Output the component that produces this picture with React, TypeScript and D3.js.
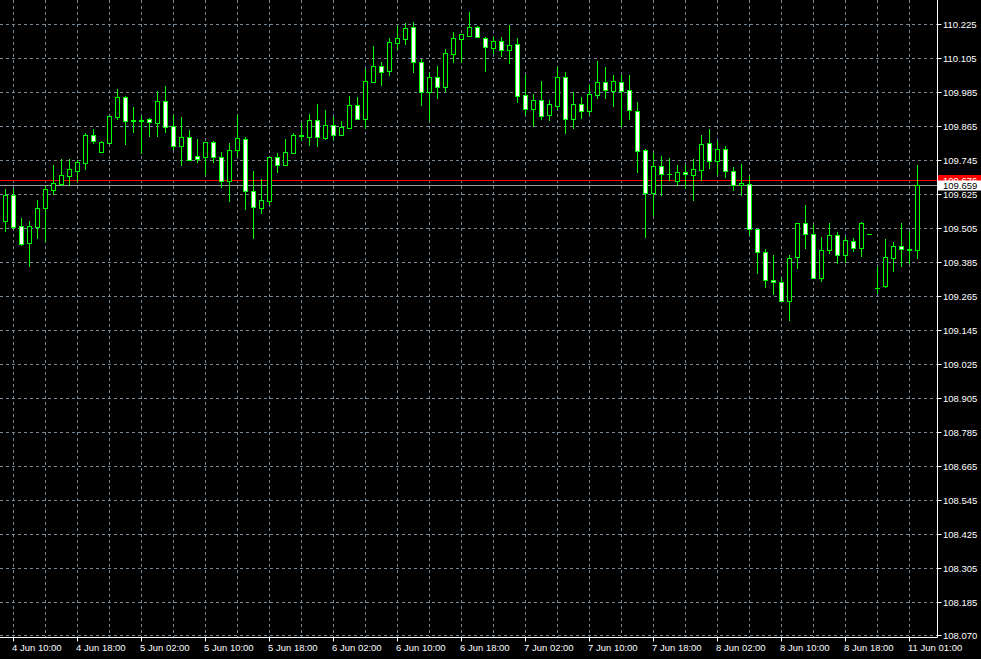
import React from "react";
import * as d3 from "d3";

const opens = [109.532,109.623,109.514,109.455,109.511,109.578,109.642,109.663,109.691,109.709,109.735,109.834,109.776,109.808,109.900,109.969,109.885,109.887,109.890,109.878,109.954,109.866,109.795,109.827,109.760,109.758,109.810,109.756,109.674,109.783,109.820,109.636,109.576,109.603,109.756,109.730,109.772,109.834,109.829,109.887,109.825,109.869,109.834,109.861,109.940,109.892,110.023,110.077,110.062,110.161,110.175,110.215,110.093,109.988,110.039,110.005,110.122,110.175,110.185,110.215,110.176,110.143,110.166,110.136,110.155,109.975,109.928,109.957,109.907,109.938,110.039,109.892,109.943,109.921,109.977,110.021,109.989,110.021,109.993,109.919,109.781,109.629,109.724,109.696,109.672,109.703,109.693,109.710,109.806,109.742,109.784,109.707,109.657,109.661,109.502,109.421,109.322,109.315,109.248,109.403,109.523,109.484,109.329,109.428,109.481,109.410,109.460,109.435,109.484,109.294,109.301,109.400,109.442,109.431,109.428];
const highs = [109.644,109.644,109.542,109.530,109.606,109.655,109.729,109.750,109.750,109.747,109.841,109.855,109.815,109.901,109.997,109.972,109.934,109.902,109.896,109.990,110.008,109.906,109.898,109.853,109.821,109.812,109.814,109.775,109.807,109.906,109.827,109.708,109.680,109.756,109.770,109.821,109.841,109.876,109.909,109.944,109.923,109.897,109.884,109.972,109.968,110.068,110.149,110.093,110.176,110.220,110.230,110.234,110.104,110.053,110.079,110.138,110.197,110.193,110.268,110.221,110.182,110.181,110.181,110.222,110.176,110.047,109.979,110.026,109.959,110.075,110.057,109.986,109.969,110.010,110.096,110.074,110.047,110.047,110.047,109.950,109.784,109.770,109.761,109.753,109.728,109.728,109.749,109.835,109.856,109.813,109.795,109.723,109.733,109.689,109.502,109.431,109.412,109.331,109.410,109.523,109.587,109.516,109.474,109.523,109.491,109.474,109.470,109.527,109.484,109.368,109.467,109.456,109.523,109.495,109.729];
const lows = [109.497,109.507,109.447,109.374,109.471,109.461,109.628,109.657,109.657,109.674,109.716,109.808,109.776,109.808,109.893,109.804,109.847,109.770,109.832,109.832,109.847,109.786,109.730,109.748,109.741,109.698,109.741,109.652,109.603,109.760,109.575,109.472,109.561,109.592,109.705,109.728,109.772,109.817,109.801,109.797,109.822,109.820,109.834,109.859,109.890,109.861,110.021,110.012,110.048,110.140,110.157,110.058,109.942,109.889,109.967,109.991,110.094,110.094,110.185,110.180,110.062,110.123,110.115,110.090,109.952,109.910,109.868,109.892,109.889,109.928,109.843,109.861,109.896,109.910,109.967,109.964,109.938,109.868,109.892,109.705,109.476,109.551,109.622,109.675,109.657,109.648,109.607,109.675,109.718,109.697,109.686,109.640,109.622,109.485,109.349,109.299,109.275,109.248,109.183,109.366,109.437,109.329,109.321,109.419,109.382,109.386,109.424,109.409,109.484,109.276,109.297,109.356,109.374,109.382,109.402];
const closes = [109.623,109.511,109.450,109.514,109.577,109.644,109.664,109.693,109.714,109.739,109.834,109.815,109.810,109.901,109.969,109.885,109.887,109.886,109.880,109.954,109.862,109.797,109.827,109.748,109.751,109.810,109.756,109.672,109.781,109.823,109.636,109.580,109.604,109.756,109.728,109.774,109.834,109.831,109.887,109.827,109.869,109.834,109.863,109.940,109.890,110.025,110.077,110.058,110.162,110.176,110.213,110.094,109.988,110.039,110.005,110.123,110.176,110.190,110.215,110.180,110.147,110.166,110.136,110.152,109.974,109.928,109.957,109.903,109.943,110.039,109.892,109.943,109.921,109.979,110.021,109.993,110.025,109.991,109.922,109.777,109.629,109.724,109.696,109.697,109.703,109.696,109.714,109.802,109.744,109.784,109.707,109.657,109.664,109.502,109.421,109.322,109.315,109.248,109.400,109.523,109.484,109.329,109.428,109.481,109.410,109.463,109.435,109.523,109.484,109.294,109.403,109.442,109.431,109.429,109.659];

const priceTicks = [110.225,110.105,109.985,109.865,109.745,109.625,109.505,109.385,109.265,109.145,109.025,108.905,108.785,108.665,108.545,108.425,108.305,108.185,108.070];
const timeLabels = ["4 Jun 10:00","4 Jun 18:00","5 Jun 02:00","5 Jun 10:00","5 Jun 18:00","6 Jun 02:00","6 Jun 10:00","6 Jun 18:00","7 Jun 02:00","7 Jun 10:00","7 Jun 18:00","8 Jun 02:00","8 Jun 10:00","8 Jun 18:00","11 Jun 01:00"];
const askPrice = 109.676;
const bidPrice = 109.659;

const W = 981;
const H = 659;
const AXIS_X = 937.5;
const AXIS_Y = 637.5;
const GREEN = "#00ff00";
const GRID = "#778899";
const FONT = "'Liberation Sans', Arial, sans-serif";

export default function App() {
  const x = d3.scaleLinear().domain([0, 1]).range([5.5, 13.5]);
  const y = d3.scaleLinear().domain([110.225, 108.07]).range([24.5, 635]);
  const gy = (p: number) => Math.floor(y(p)) + 0.5;
  const py = (p: number) => Math.round(y(p));

  const vGrid: number[] = [];
  for (let i = 1; x(i) < AXIS_X - 2; i += 4) vGrid.push(x(i));

  return (
    <svg width={W} height={H} style={{ position: "absolute", left: 0, top: 0, display: "block" }}>
      <rect x={0} y={0} width={W} height={H} fill="#000" />
      {priceTicks.map((p) => (
        <line key={"h" + p} x1={0} x2={AXIS_X} y1={gy(p)} y2={gy(p)} stroke={GRID} strokeWidth={1} strokeDasharray="3,3" />
      ))}
      {vGrid.map((vx) => (
        <line key={"v" + vx} x1={vx} x2={vx} y1={0} y2={AXIS_Y} stroke={GRID} strokeWidth={1} strokeDasharray="3,3" />
      ))}
      <line x1={0} x2={AXIS_X} y1={Math.round(y(askPrice)) + 0.5} y2={Math.round(y(askPrice)) + 0.5} stroke="#ff0000" strokeWidth={1} />
      <line x1={0} x2={AXIS_X} y1={Math.round(y(bidPrice)) + 0.5} y2={Math.round(y(bidPrice)) + 0.5} stroke="#9a9a9a" strokeWidth={1} />
      {opens.map((o, i) => {
        const c = closes[i];
        const cx = x(i);
        const yH = py(highs[i]);
        const yL = py(lows[i]);
        const yT = py(Math.max(o, c));
        const yB = py(Math.min(o, c));
        const bull = c >= o;
        return (
          <g key={"c" + i}>
            <rect x={cx - 0.5} y={yH} width={1} height={Math.max(1, yL - yH + 1)} fill={GREEN} />
            {yB - yT < 1 ? (
              <rect x={cx - 2.5} y={yT} width={5} height={1} fill={GREEN} />
            ) : (
              <rect x={cx - 2} y={yT + 0.5} width={4} height={yB - yT} fill={bull ? "#000" : "#fff"} stroke={GREEN} strokeWidth={1} />
            )}
          </g>
        );
      })}
      <line x1={AXIS_X} x2={AXIS_X} y1={0} y2={AXIS_Y} stroke="#fff" strokeWidth={1} />
      <line x1={0} x2={AXIS_X} y1={AXIS_Y} y2={AXIS_Y} stroke="#fff" strokeWidth={1} />
      {priceTicks.map((p) => (
        <g key={"pt" + p}>
          <line x1={AXIS_X} x2={AXIS_X + 4} y1={gy(p)} y2={gy(p)} stroke="#fff" strokeWidth={1} />
          <text x={943} y={gy(p)} dominantBaseline="central" fill="#fff" fontFamily={FONT} fontSize={9.5}>
            {p.toFixed(3)}
          </text>
        </g>
      ))}
      {timeLabels.map((t, k) => {
        const tx = Math.floor(x(1 + k * 8)) + 0.5;
        return (
          <g key={"t" + k}>
            <line x1={tx} x2={tx} y1={AXIS_Y} y2={AXIS_Y + 4} stroke="#fff" strokeWidth={1} />
            <text x={tx - 1.5} y={650.5} fill="#fff" fontFamily={FONT} fontSize={9.5}>
              {t}
            </text>
          </g>
        );
      })}
      <rect x={938} y={py(askPrice) - 5} width={43} height={10} fill="#ff0000" />
      <text x={943} y={py(askPrice)} dominantBaseline="central" fill="#fff" fontFamily={FONT} fontSize={9.5}>
        {askPrice.toFixed(3)}
      </text>
      <rect x={938} y={py(bidPrice) - 4.5} width={43} height={10} fill="#fff" />
      <text x={943} y={py(bidPrice) + 0.5} dominantBaseline="central" fill="#000" fontFamily={FONT} fontSize={9.5}>
        {bidPrice.toFixed(3)}
      </text>
    </svg>
  );
}
